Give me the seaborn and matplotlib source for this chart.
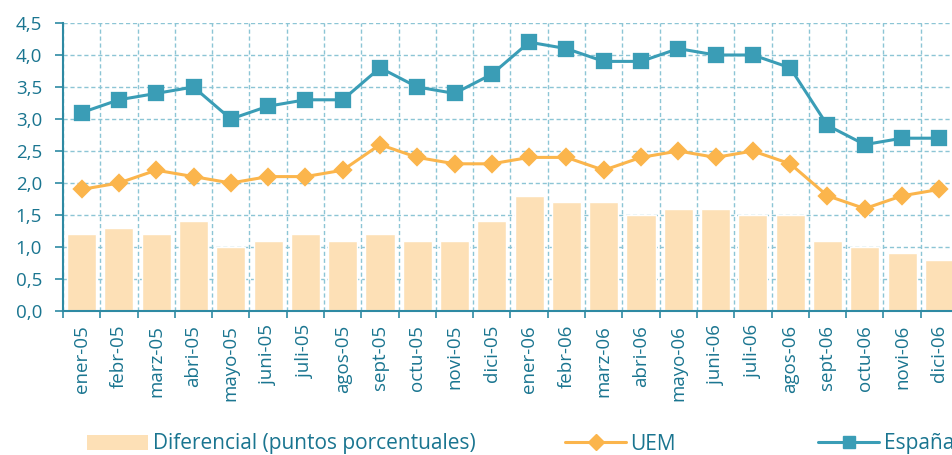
import matplotlib
matplotlib.use("Agg")
import matplotlib.pyplot as plt
from matplotlib.patches import Patch
from matplotlib.lines import Line2D
from matplotlib.ticker import FixedLocator, FuncFormatter
import seaborn as sns
import pandas as pd

months = ["ener-05", "febr-05", "marz-05", "abri-05", "mayo-05", "juni-05", "juli-05",
          "agos-05", "sept-05", "octu-05", "novi-05", "dici-05", "ener-06", "febr-06",
          "marz-06", "abri-06", "mayo-06", "juni-06", "juli-06", "agos-06", "sept-06",
          "octu-06", "novi-06", "dici-06"]
espana = [3.1, 3.3, 3.4, 3.5, 3.0, 3.2, 3.3, 3.3, 3.8, 3.5, 3.4, 3.7,
          4.2, 4.1, 3.9, 3.9, 4.1, 4.0, 4.0, 3.8, 2.9, 2.6, 2.7, 2.7]
uem = [1.9, 2.0, 2.2, 2.1, 2.0, 2.1, 2.1, 2.2, 2.6, 2.4, 2.3, 2.3,
       2.4, 2.4, 2.2, 2.4, 2.5, 2.4, 2.5, 2.3, 1.8, 1.6, 1.8, 1.9]
diferencial = [1.2, 1.3, 1.2, 1.4, 1.0, 1.1, 1.2, 1.1, 1.2, 1.1, 1.1, 1.4,
               1.8, 1.7, 1.7, 1.5, 1.6, 1.6, 1.5, 1.5, 1.1, 1.0, 0.9, 0.8]
labels = ["Diferencial (puntos porcentuales)", "UEM", "España"]

df = pd.DataFrame({"mes": months, "espana": espana, "uem": uem, "dif": diferencial})

sns.set_theme(style="white")
plt.rcParams["font.family"] = ["Open Sans", "DejaVu Sans"]

TEAL_TXT = "#1a7590"
AXIS = "#2e8aa3"
C_ESP = "#3a9db6"
C_UEM = "#fbb54c"
C_BAR = "#fde0b6"
GRID = "#8cc5d5"

W, H = 952, 455
fig = plt.figure(figsize=(W / 100, H / 100), dpi=100)
ax = fig.add_axes([63 / W, (H - 311) / H, (958 - 63) / W, (311 - 23) / H])

sns.barplot(data=df, x="mes", y="dif", color=C_BAR, width=0.78, ax=ax,
            saturation=1, zorder=2)
sns.pointplot(data=df, x="mes", y="uem", color=C_UEM, markers="D", linestyles="-",
              markersize=8, linewidth=2.2, ax=ax, zorder=4)
sns.pointplot(data=df, x="mes", y="espana", color=C_ESP, markers="s", linestyles="-",
              markersize=10, linewidth=2.2, ax=ax, zorder=5)

ax.set_xlim(-0.5, len(months) - 0.5)
ax.set_ylim(0, 4.5)
ax.set_yticks([i * 0.5 for i in range(10)])
ax.yaxis.set_major_formatter(FuncFormatter(lambda v, p: f"{v:.1f}".replace(".", ",")))
ax.set_xticks(range(len(months)))
ax.set_xticklabels(months, rotation=90)
ax.xaxis.set_minor_locator(FixedLocator([i + 0.5 for i in range(-1, len(months))]))
ax.set_xlabel("")
ax.set_ylabel("")

ax.grid(False)
ax.yaxis.grid(True, which="major", color=GRID, linestyle=(0, (3, 2)), linewidth=1, zorder=0)
ax.xaxis.grid(True, which="minor", color=GRID, linestyle=(0, (3, 2)), linewidth=1, zorder=0)
ax.set_axisbelow(True)

for s in ["top", "right"]:
    ax.spines[s].set_visible(False)
for s in ["left", "bottom"]:
    ax.spines[s].set_color(AXIS)
    ax.spines[s].set_linewidth(1.5)

ax.tick_params(axis="x", which="major", length=0, pad=10, labelsize=13.5, labelcolor=TEAL_TXT)
ax.tick_params(axis="x", which="minor", length=5, width=1.2, color=AXIS, direction="out", bottom=True)
ax.tick_params(axis="y", which="major", length=6, width=1.2, color=AXIS, direction="out",
               left=True, pad=9, labelsize=13.5, labelcolor=TEAL_TXT)

handles = [
    Patch(facecolor=C_BAR, edgecolor="none"),
    Line2D([0], [0], color=C_UEM, lw=2.2, marker="D", markersize=8),
    Line2D([0], [0], color=C_ESP, lw=2.2, marker="s", markersize=9),
]
xs = [87, 565, 818]
for h, lab, x in zip(handles, labels, xs):
    leg = fig.legend([h], [lab], loc="center left", bbox_to_anchor=(x / W, (H - 444) / H),
                     frameon=False, borderpad=0, borderaxespad=0, handlelength=2.95,
                     handleheight=0.72, handletextpad=0.2, fontsize=15)
    for t in leg.get_texts():
        t.set_color(TEAL_TXT)

fig.savefig("out.png", dpi=100)
